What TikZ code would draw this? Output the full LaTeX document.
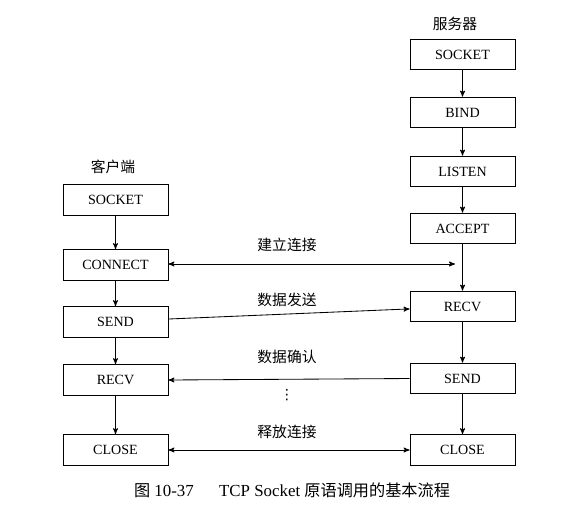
\documentclass[tikz,border=0pt]{standalone}
\usepackage{fontspec}
\setmainfont{Liberation Serif}
\newfontfamily\cjk{Noto Sans CJK SC}
\newfontfamily\symf{DejaVu Sans}
\usetikzlibrary{arrows}

\tikzset{
  prim/.style={draw, line width=0.6pt, minimum width=2.625cm, minimum height=0.77cm,
               inner sep=0pt, font=\fontsize{10}{12}\selectfont},
  lbl/.style={font=\cjk\fontsize{10.5}{12}\selectfont}
}

\begin{document}
\begin{tikzpicture}[->, >=stealth', line width=0.6pt, x=0.025cm, y=-0.025cm]
  \useasboundingbox (0,0) rectangle (569,515);

  % server side
  \node[lbl]  (server)  at (455,24)    {服务器};
  \node[prim] (ssocket) at (462.5,54.5)  {SOCKET};
  \node[prim] (sbind)   at (462.5,112.5) {BIND};
  \node[prim] (slisten) at (462.5,171.5) {LISTEN};
  \node[prim] (saccept) at (462.5,228.5) {ACCEPT};
  \node[prim] (srecv)   at (462.5,306.5) {RECV};
  \node[prim] (ssend)   at (462.5,378.5) {SEND};
  \node[prim] (sclose)  at (462.5,450)   {CLOSE};

  % client side
  \node[lbl]  (client)   at (113,167)   {客户端};
  \node[prim] (csocket)  at (115.5,200) {SOCKET};
  \node[prim] (cconnect) at (115.5,265) {CONNECT};
  \node[prim] (csend)    at (115.5,322) {SEND};
  \node[prim] (crecv)    at (115.5,380) {RECV};
  \node[prim] (cclose)   at (115.5,450) {CLOSE};

  \coordinate (meet) at (455,264);

  \path (ssocket) edge (sbind)
        (sbind)   edge (slisten)
        (slisten) edge (saccept)
        (saccept) edge (srecv)
        (srecv)   edge (ssend)
        (ssend)   edge (sclose)
        (csocket)  edge (cconnect)
        (cconnect) edge (csend)
        (csend)    edge (crecv)
        (crecv)    edge (cclose)
        ;

  \draw[<->] (cconnect.east |- meet) -- (meet);
  \draw ([yshift=0.075cm]csend.east) -- ([yshift=-0.06cm]srecv.west);
  \draw (ssend.west) -- (crecv.east);
  \draw[<->] (cclose) -- (sclose);

  \node[lbl] (build)   at (287,245) {建立连接};
  \node[lbl] (data)    at (287,300) {数据发送};
  \node[lbl] (ack)     at (287,357) {数据确认};
  \node      (more)    at (287,395) {\symf\fontsize{10}{12}\selectfont ⋮};
  \node[lbl] (release) at (287,432) {释放连接};

  \node (caption) at (292,490)
    {{\cjk\fontsize{11.5}{12}\selectfont 图}\fontsize{12}{13}\selectfont\ 10-37\quad\enspace TCP Socket {\cjk\fontsize{11.5}{12}\selectfont 原语调用的基本流程}};
\end{tikzpicture}
\end{document}
